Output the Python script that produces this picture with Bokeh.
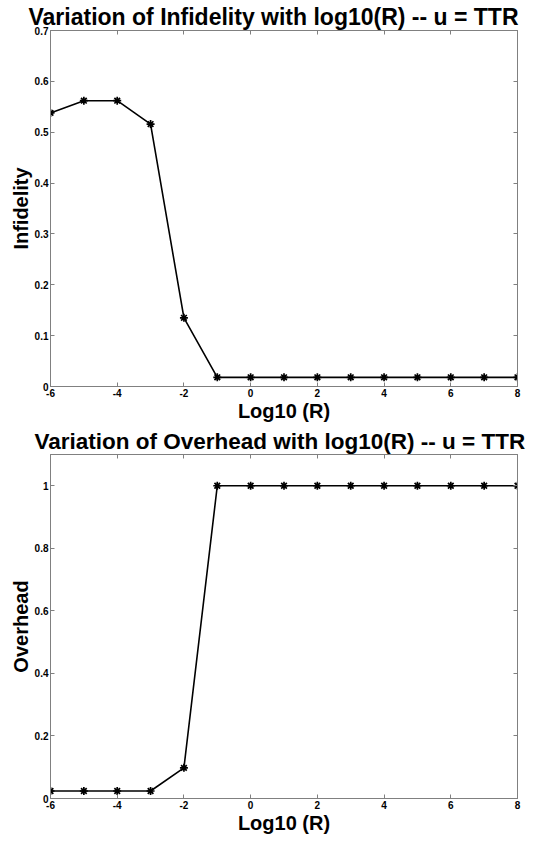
from bokeh.plotting import figure
from bokeh.layouts import column
from bokeh.models import LinearAxis, FixedTicker, Range1d, Title
from bokeh.embed import file_html
from bokeh.resources import INLINE

# ---- data ----
log10_r = [-6, -5, -4, -3, -2, -1, 0, 1, 2, 3, 4, 5, 6, 7, 8]
infidelity = [0.538, 0.562, 0.562, 0.516, 0.135, 0.018, 0.018, 0.018,
              0.018, 0.018, 0.018, 0.018, 0.018, 0.018, 0.018]
overhead = [0.024, 0.024, 0.024, 0.024, 0.098, 1.0, 1.0, 1.0,
            1.0, 1.0, 1.0, 1.0, 1.0, 1.0, 1.0]

x_ticks = [-6, -4, -2, 0, 2, 4, 6, 8]
x_tick_labels = ["-6", "-4", "-2", "0", "2", "4", "6", "8"]
y1_ticks = [0, 0.1, 0.2, 0.3, 0.4, 0.5, 0.6, 0.7]
y1_tick_labels = ["0", "0.1", "0.2", "0.3", "0.4", "0.5", "0.6", "0.7"]
y2_ticks = [0, 0.2, 0.4, 0.6, 0.8, 1.0]
y2_tick_labels = ["0", "0.2", "0.4", "0.6", "0.8", "1"]

title1 = "Variation of Infidelity with log10(R) -- u = TTR"
title2 = "Variation of Overhead with log10(R) -- u = TTR"

FONT = "Liberation Sans"
GRAY = "#808080"


def make_fig(title, ylabel, ys, y_end, yt, ytl, height, mb_left, mb_right, mb_top,
             mb_bottom, title_size, title_offset):
    p = figure(width=532, height=height, output_backend="svg", toolbar_location=None,
               x_range=Range1d(-6, 8), y_range=Range1d(0, y_end),
               min_border_left=mb_left, min_border_right=mb_right,
               min_border_top=mb_top, min_border_bottom=mb_bottom)
    p.title = Title(text=title, text_font=FONT, text_font_size=title_size,
                    text_font_style="bold", align="left", standoff=2,
                    offset=title_offset, text_color="black")
    p.xgrid.visible = False
    p.ygrid.visible = False
    p.outline_line_color = GRAY
    p.background_fill_color = "white"
    p.border_fill_color = "white"

    for ax, ticks, labels in ((p.xaxis[0], x_ticks, x_tick_labels), (p.yaxis[0], yt, ytl)):
        ax.ticker = FixedTicker(ticks=ticks)
        ax.major_label_overrides = {t: l for t, l in zip(ticks, labels)}
        ax.minor_tick_line_color = None
        ax.major_tick_in = 4
        ax.major_tick_out = 0
        ax.axis_line_color = GRAY
        ax.major_tick_line_color = GRAY
        ax.major_label_text_font = FONT
        ax.major_label_text_font_size = "10px"
        ax.major_label_text_font_style = "bold"
        ax.major_label_text_color = "black"
        ax.major_label_standoff = 2
        ax.axis_label_text_font = FONT
        ax.axis_label_text_font_size = "20px"
        ax.axis_label_text_font_style = "bold"
        ax.axis_label_text_color = "black"
        ax.axis_label_standoff = 0
    p.xaxis[0].axis_label = "Log10 (R)"
    p.yaxis[0].axis_label = ylabel

    for side, ticks in (("above", x_ticks), ("right", yt)):
        ax = LinearAxis(ticker=FixedTicker(ticks=ticks))
        ax.minor_tick_line_color = None
        ax.major_tick_in = 4
        ax.major_tick_out = 0
        ax.axis_line_color = GRAY
        ax.major_tick_line_color = GRAY
        ax.major_label_text_color = None
        ax.major_label_text_font_size = "1px"
        ax.major_label_standoff = 0
        p.add_layout(ax, side)

    p.line(log10_r, ys, line_color="black", line_width=1.6)
    p.scatter(log10_r, ys, marker="asterisk", size=8, line_color="black", line_width=1.7)
    return p


p1 = make_fig(title1, "Infidelity", infidelity, 0.7, y1_ticks, y1_tick_labels,
              424, 50, 15, 30, 36, "23px", -22)
p2 = make_fig(title2, "Overhead", overhead, 1.1, y2_ticks, y2_tick_labels,
              412, 34, 15, 30, 36, "22.5px", -16)

layout = column(p1, p2, spacing=0)
open("out.html", "w").write(file_html(layout, INLINE))
